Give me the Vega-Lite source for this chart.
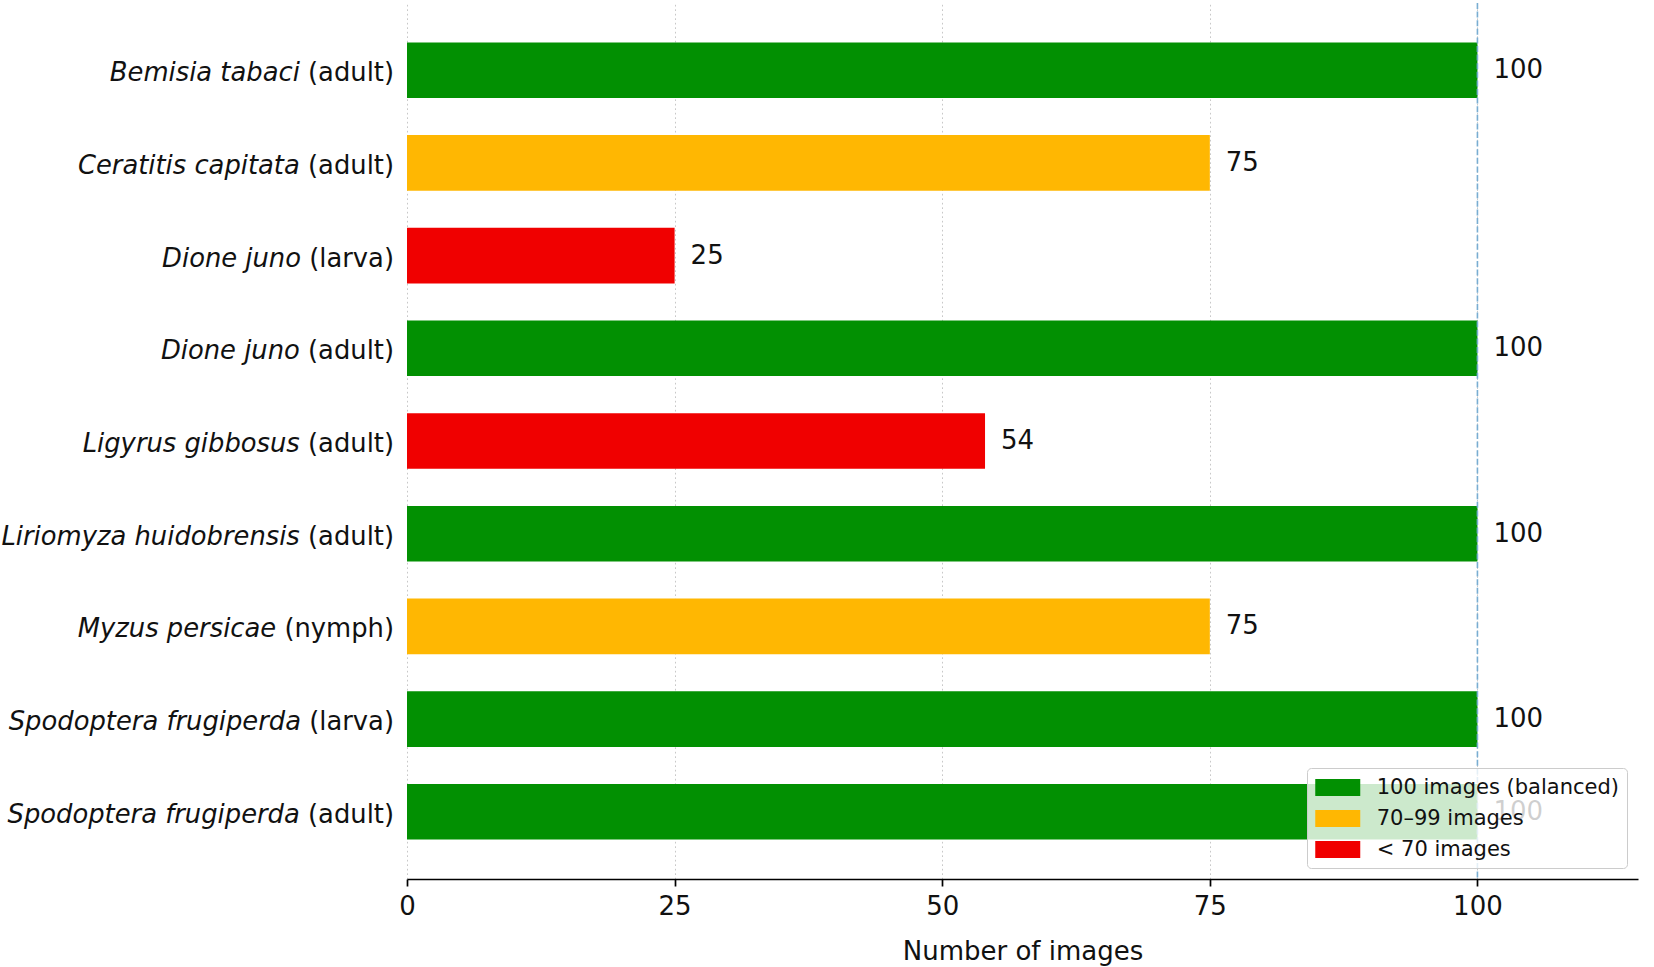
{
  "$schema": "https://vega.github.io/schema/vega-lite/v6.json",
  "width": 1231,
  "height": 876,
  "autosize": {"type": "none"},
  "padding": {"left": 407, "top": 3, "right": 16, "bottom": 88},
  "background": "white",
  "datasets": {
    "pests": [
      {"label": "Bemisia tabaci (adult)", "species": "Bemisia tabaci", "stage": "(adult)", "images": 100, "group": "100 images (balanced)"},
      {"label": "Ceratitis capitata (adult)", "species": "Ceratitis capitata", "stage": "(adult)", "images": 75, "group": "70–99 images"},
      {"label": "Dione juno (larva)", "species": "Dione juno", "stage": "(larva)", "images": 25, "group": "< 70 images"},
      {"label": "Dione juno (adult)", "species": "Dione juno", "stage": "(adult)", "images": 100, "group": "100 images (balanced)"},
      {"label": "Ligyrus gibbosus (adult)", "species": "Ligyrus gibbosus", "stage": "(adult)", "images": 54, "group": "< 70 images"},
      {"label": "Liriomyza huidobrensis (adult)", "species": "Liriomyza huidobrensis", "stage": "(adult)", "images": 100, "group": "100 images (balanced)"},
      {"label": "Myzus persicae (nymph)", "species": "Myzus persicae", "stage": "(nymph)", "images": 75, "group": "70–99 images"},
      {"label": "Spodoptera frugiperda (larva)", "species": "Spodoptera frugiperda", "stage": "(larva)", "images": 100, "group": "100 images (balanced)"},
      {"label": "Spodoptera frugiperda (adult)", "species": "Spodoptera frugiperda", "stage": "(adult)", "images": 100, "group": "100 images (balanced)"}
    ],
    "target": [{"balanced": 100}]
  },
  "data": {"name": "pests"},
  "encoding": {
    "y": {
      "field": "label",
      "type": "nominal",
      "sort": null,
      "scale": {"paddingInner": 0.4, "paddingOuter": 0.425},
      "axis": null
    }
  },
  "layer": [
    {
      "mark": {"type": "bar"},
      "encoding": {
        "x": {
          "field": "images",
          "type": "quantitative",
          "scale": {"domain": [0, 115], "nice": false, "zero": true},
          "axis": {
            "title": "Number of images",
            "values": [0, 25, 50, 75, 100],
            "grid": true,
            "labelFlush": false
          }
        },
        "color": {
          "field": "group",
          "type": "nominal",
          "scale": {
            "domain": ["100 images (balanced)", "70–99 images", "< 70 images"],
            "range": ["#029002", "#ffb702", "#f00000"]
          },
          "legend": {
            "title": null,
            "orient": "bottom-right",
            "offset": 11,
            "zindex": 1,
            "symbolType": "M-2,-0.756H2V0.756H-2Z",
            "symbolSize": 506.25,
            "symbolOffset": 11.25,
            "symbolStrokeWidth": 0,
            "symbolOpacity": 1,
            "labelFontSize": 21,
            "labelOffset": 27.5,
            "labelLimit": 0,
            "labelColor": "#111111",
            "rowPadding": 9,
            "padding": 8,
            "fillColor": "rgba(255,255,255,0.8)",
            "strokeColor": "#cccccc",
            "cornerRadius": 4
          }
        }
      }
    },
    {
      "data": {"name": "target"},
      "mark": {"type": "rule", "color": "#79add2", "strokeWidth": 1.6, "strokeDash": [6, 2.6]},
      "encoding": {
        "x": {"field": "balanced", "type": "quantitative"},
        "y": null
      }
    },
    {
      "mark": {"type": "text", "align": "left", "baseline": "middle", "dx": 16, "fontSize": 26, "color": "#111111"},
      "encoding": {
        "x": {"field": "images", "type": "quantitative"},
        "text": {"field": "images", "type": "quantitative"}
      }
    },
    {
      "mark": {"type": "text", "align": "right", "baseline": "middle", "dx": -13, "dy": 3, "fontSize": 25.8, "color": "#111111"},
      "encoding": {
        "x": {"datum": 0},
        "text": {"field": "stage", "type": "nominal"}
      }
    },
    {
      "transform": [{"filter": "datum.stage === '(adult)'"}],
      "mark": {"type": "text", "align": "right", "baseline": "middle", "dx": -107.2, "dy": 3, "fontSize": 25.8, "fontStyle": "italic", "color": "#111111"},
      "encoding": {
        "x": {"datum": 0},
        "text": {"field": "species", "type": "nominal"}
      }
    },
    {
      "transform": [{"filter": "datum.stage === '(larva)'"}],
      "mark": {"type": "text", "align": "right", "baseline": "middle", "dx": -106.0, "dy": 3, "fontSize": 25.8, "fontStyle": "italic", "color": "#111111"},
      "encoding": {
        "x": {"datum": 0},
        "text": {"field": "species", "type": "nominal"}
      }
    },
    {
      "transform": [{"filter": "datum.stage === '(nymph)'"}],
      "mark": {"type": "text", "align": "right", "baseline": "middle", "dx": -130.8, "dy": 3, "fontSize": 25.8, "fontStyle": "italic", "color": "#111111"},
      "encoding": {
        "x": {"datum": 0},
        "text": {"field": "species", "type": "nominal"}
      }
    }
  ],
  "config": {
    "font": "DejaVu Sans",
    "view": {"stroke": null},
    "axis": {
      "labelFont": "DejaVu Sans",
      "labelFontSize": 26,
      "labelColor": "#111111",
      "labelPadding": 7,
      "titleFont": "DejaVu Sans",
      "titleFontSize": 26,
      "titleFontWeight": "normal",
      "titleColor": "#111111",
      "titlePadding": 19,
      "domainColor": "#000000",
      "domainWidth": 1.7,
      "tickColor": "#000000",
      "tickWidth": 1.7,
      "tickSize": 7,
      "gridColor": "#c8c8c8",
      "gridWidth": 1,
      "gridDash": [1.7, 2.8]
    },
    "legend": {"labelFont": "DejaVu Sans"}
  }
}
